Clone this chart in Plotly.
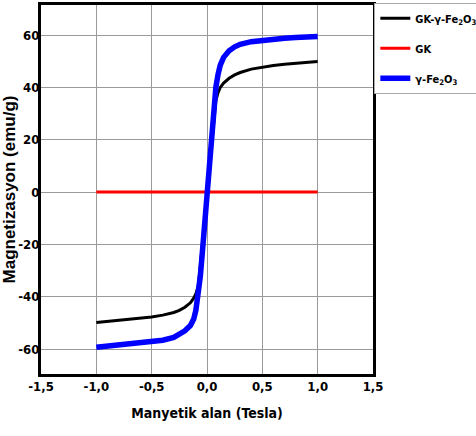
import plotly.graph_objects as go

# Field (Tesla) and magnetization (emu/g)
x_gk_fe = [-1.0, -0.9, -0.8, -0.7, -0.6, -0.5, -0.4, -0.3, -0.25, -0.2, -0.15, -0.12, -0.1, -0.08,
           -0.06, -0.04, -0.02, 0.0, 0.02, 0.04, 0.06, 0.08, 0.1, 0.12, 0.15, 0.2, 0.25, 0.3,
           0.4, 0.5, 0.6, 0.7, 0.8, 0.9, 1.0]
y_gk_fe = [-49.8, -49.4, -49.0, -48.6, -48.2, -47.7, -47.0, -46.0, -45.2, -44.0, -42.3, -40.5,
           -38.8, -36.0, -28.0, -19.0, -10.0, 0.0, 10.0, 19.0, 28.0, 35.0, 38.0, 40.0, 41.7,
           43.5, 44.8, 45.7, 47.0, 47.8, 48.4, 48.9, 49.3, 49.6, 49.9]

x_gk = [-1.0, 1.0]
y_gk = [0.0, 0.0]

x_fe = [-1.0, -0.9, -0.8, -0.7, -0.6, -0.5, -0.4, -0.3, -0.25, -0.2, -0.15, -0.12, -0.1, -0.08,
        -0.06, -0.04, -0.02, 0.0, 0.02, 0.04, 0.06, 0.08, 0.1, 0.12, 0.15, 0.2, 0.25, 0.3,
        0.4, 0.5, 0.6, 0.7, 0.8, 0.9, 1.0]
y_fe = [-59.3, -58.9, -58.5, -58.1, -57.8, -57.3, -56.6, -55.5, -54.5, -53.0, -51.0, -48.5,
        -45.0, -40.0, -32.0, -22.0, -11.0, 0.0, 11.0, 22.0, 32.0, 40.0, 45.0, 48.5, 51.5,
        54.0, 55.5, 56.5, 57.5, 58.1, 58.5, 58.8, 59.1, 59.3, 59.5]

x_tickvals = [-1.5, -1.0, -0.5, 0.0, 0.5, 1.0, 1.5]
x_ticktext = ["-1,5", "-1,0", "-0,5", "0,0", "0,5", "1,0", "1,5"]
y_tickvals = [-60, -40, -20, 0, 20, 40, 60]
y_ticktext = ["-60", "-40", "-20", "0", "20", "40", "60"]

narrow = "DejaVu Sans Condensed, Liberation Sans Narrow, Liberation Sans, Arial, sans-serif"
wide = "Liberation Sans, Arial, sans-serif"

fig = go.Figure()
fig.add_trace(go.Scatter(x=x_gk_fe, y=y_gk_fe, mode="lines", name="<b>GK-γ-Fe<sub>2</sub>O<sub>3</sub></b>",
                         line=dict(color="black", width=3), legendgroup="a"))
fig.add_trace(go.Scatter(x=x_gk, y=y_gk, mode="lines", name="<b>GK</b>",
                         line=dict(color="#ff0000", width=3), legendgroup="b"))
fig.add_trace(go.Scatter(x=x_fe, y=y_fe, mode="lines", name="<b>γ-Fe<sub>2</sub>O<sub>3</sub></b>",
                         line=dict(color="#0000ff", width=5.5), legendgroup="c"))

axis_common = dict(showline=True, linecolor="black", linewidth=3, mirror=True,
                   showgrid=True, gridcolor="#9a9a9a", gridwidth=1, zeroline=False, ticks="")

fig.update_layout(
    width=476, height=436,
    margin=dict(l=41, r=103, t=5, b=62, autoexpand=False),
    paper_bgcolor="white", plot_bgcolor="white",
    font=dict(family=narrow, color="black", size=13),
    xaxis=dict(range=[-1.5, 1.5], tickvals=x_tickvals, ticktext=["<b>%s</b>" % t for t in x_ticktext],
               tickfont=dict(family=narrow, size=13), ticklabelstandoff=-2,
               title=dict(text="<b>Manyetik alan (Tesla)</b>", font=dict(family=narrow, size=14), standoff=16),
               **axis_common),
    yaxis=dict(range=[-69.5, 71.5], tickvals=y_tickvals, ticktext=["<b>%s</b>" % t for t in y_ticktext],
               tickfont=dict(family=narrow, size=13), ticklabelstandoff=-4,
               title=dict(text="<b>Magnetizasyon (emu/g)</b>", font=dict(family=wide, size=17), standoff=10),
               **axis_common),
    legend=dict(x=1.004, y=1.006, xanchor="left", yanchor="top", bordercolor="#aaaaaa", borderwidth=1,
                bgcolor="white", font=dict(family=narrow, size=11), tracegroupgap=11, itemwidth=30),
    showlegend=True,
)

fig.write_html("out.html")
